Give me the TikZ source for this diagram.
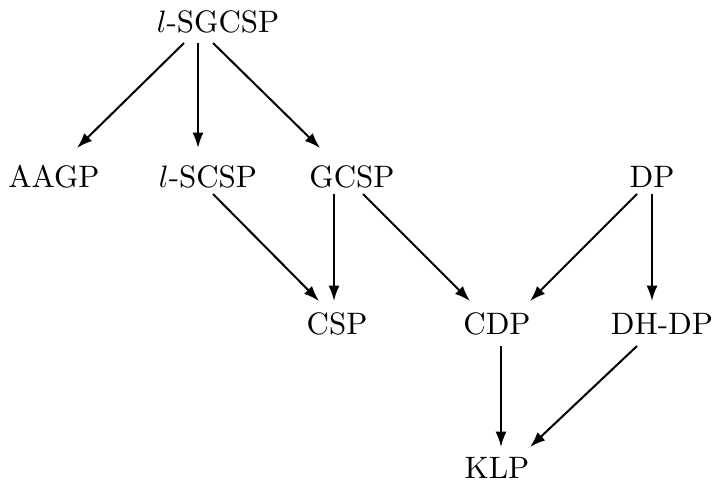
\documentclass[tikz,border=0pt]{standalone}
\usepackage{amsmath}
\usetikzlibrary{arrows.meta}

\tikzset{
    arr/.style={-{Latex[length=5pt,width=3.6pt]},line width=0.65pt},
    cls/.style={inner sep=0pt}
}

\begin{document}
\begin{tikzpicture}[
            x=0.01134cm, y=-0.01134cm,
            every node/.append style={black}
        ]
            \useasboundingbox (0,0) rectangle (713,490);
            % the classes
            \node [cls] (sg)   at (218,22)  {$l$-SGCSP};
            \node [cls] (aagp) at (54,177)  {AAGP};
            \node [cls] (lsc)  at (208,177) {$l$-SCSP};
            \node [cls] (gc)   at (352,177) {GCSP};
            \node [cls] (dp)   at (652,177) {DP};
            \node [cls] (csp)  at (337,324) {CSP};
            \node [cls] (cdp)  at (497,324) {CDP};
            \node [cls] (dh)   at (662,324) {DH-DP};
            \node [cls] (klp)  at (497,468) {KLP};
            % reductions
            \draw [arr] ([shift={(-34,21)}]sg.center) -- ([shift={(23,-29)}]aagp.center);
            \draw [arr] ([shift={(-20,21)}]sg.center) -- ([shift={(-10,-29)}]lsc.center);
            \draw [arr] ([shift={(-5,21)}]sg.center) -- ([shift={(-32,-29)}]gc.center);
            \draw [arr] ([shift={(5,17)}]lsc.center) -- ([shift={(-18,-23)}]csp.center);
            \draw [arr] ([shift={(-18,17)}]gc.center) -- ([shift={(-3,-23)}]csp.center);
            \draw [arr] ([shift={(11,17)}]gc.center) -- ([shift={(-27,-23)}]cdp.center);
            \draw [arr] ([shift={(-15,17)}]dp.center) -- ([shift={(33,-23)}]cdp.center);
            \draw [arr] ([shift={(0,17)}]dp.center) -- ([shift={(-10,-23)}]dh.center);
            \draw [arr] ([shift={(4,22)}]cdp.center) -- ([shift={(4,-21)}]klp.center);
            \draw [arr] ([shift={(-25,22)}]dh.center) -- ([shift={(33,-21)}]klp.center);
        \end{tikzpicture}
\end{document}
